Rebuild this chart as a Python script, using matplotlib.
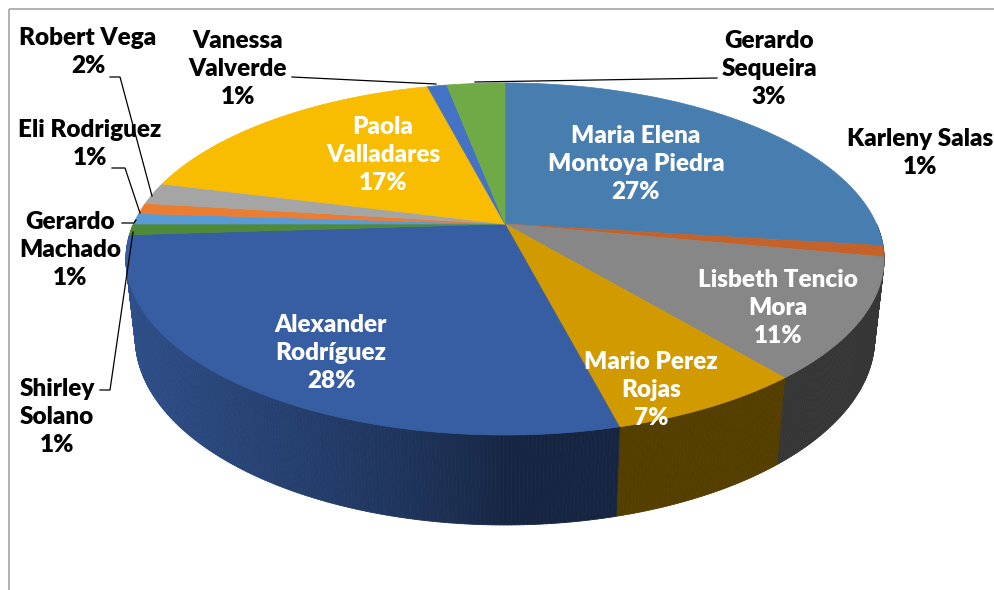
import numpy as np
import matplotlib
matplotlib.use("Agg")
import matplotlib.pyplot as plt
from matplotlib.patches import Polygon
from matplotlib.collections import PolyCollection
from matplotlib.colors import to_rgb
from matplotlib import font_manager

# ---------------- data ----------------
categories = ["Maria Elena Montoya Piedra", "Karleny Salas", "Lisbeth Tencio Mora",
              "Mario Perez Rojas", "Alexander Rodríguez", "Shirley Solano",
              "Gerardo Machado", "Eli Rodriguez", "Robert Vega",
              "Paola Valladares", "Vanessa Valverde", "Gerardo Sequeira"]
values = [27, 1, 11, 7, 28, 1, 1, 1, 2, 17, 1, 3]

# ---------------- style / layout ----------------
colors = ["#477EAF", "#C5622A", "#878787", "#D19B00", "#375DA2", "#4E8A38",
          "#5A9BD5", "#EA7D32", "#A5A5A5", "#F8BC00", "#4472C4", "#70AA46"]
label_text = ["Maria Elena\nMontoya Piedra", "Karleny Salas", "Lisbeth Tencio\nMora",
              "Mario Perez\nRojas", "Alexander\nRodríguez", "Shirley\nSolano",
              "Gerardo\nMachado", "Eli Rodriguez", "Robert Vega",
              "Paola\nValladares", "Vanessa\nValverde", "Gerardo\nSequeira"]
label_pos = [(636, 164), (920, 153), (778, 308), (651, 390), (331, 353), (57, 417),
             (70, 250), (90, 144), (88, 52), (383, 155), (238, 69), (769, 69)]
label_inside = [True, False, True, True, True, False, False, False, False, True, False, False]
leaders = {
    5: [(100, 390), (110, 390), (133, 232)],
    6: [(122, 223), (134, 223), (136, 220)],
    7: [(112, 168), (125, 168), (140, 213)],
    8: [(110, 77), (120, 77), (152, 196)],
    10: [(292, 77), (436, 84)],
    11: [(717, 78), (475, 82)],
}

# perspective geometry of the 3-D pie
CX, CY = 505.0, 224.0
TILT = np.radians(27.07)
S_, C_ = np.sin(TILT), np.cos(TILT)
DIST = 4.48
FOC = 1664.5
HEIGHT = 0.24


def proj(phi, Y):
    X = np.sin(phi)
    Z = -np.cos(phi)
    depth = DIST - Z * C_ - Y * S_
    v = Y * C_ - Z * S_
    return CX + FOC * X / depth, CY - FOC * v / depth, depth


fig = plt.figure(figsize=(9.95, 5.90), dpi=100)
ax = fig.add_axes([0, 0, 1, 1])
ax.set_xlim(0, 995)
ax.set_ylim(590, 0)
ax.axis("off")

# chart border (top and left)
ax.plot([9, 995], [9, 9], color="#ABABAB", lw=1.3, solid_capstyle="butt")
ax.plot([9, 9], [9, 590], color="#ABABAB", lw=1.3, solid_capstyle="butt")

total = float(sum(values))
bounds = np.concatenate([[0], np.cumsum(values)]) / total * 2 * np.pi

# ---- side walls ----
quads, qcols, qdepth = [], [], []
for i in range(len(values)):
    a0, a1 = bounds[i], bounds[i + 1]
    lo, hi = max(a0, np.pi / 2), min(a1, 1.5 * np.pi)
    if hi <= lo:
        continue
    n = max(2, int((hi - lo) / np.radians(0.5)))
    ph = np.linspace(lo, hi, n + 1)
    base = np.array(to_rgb(colors[i]))
    for k in range(n):
        p0, p1 = ph[k], ph[k + 1]
        x0t, y0t, d0 = proj(p0, 0)
        x1t, y1t, _ = proj(p1, 0)
        x1b, y1b, _ = proj(p1, -HEIGHT)
        x0b, y0b, _ = proj(p0, -HEIGHT)
        pm = 0.5 * (p0 + p1)
        f = 0.40 + 0.47 * max(0.0, -np.sin(pm)) ** 0.7
        quads.append([(x0t, y0t), (x1t, y1t), (x1b, y1b), (x0b, y0b)])
        qcols.append(np.clip(base * f, 0, 1))
        qdepth.append(d0)
order = np.argsort(qdepth)[::-1]
pc = PolyCollection([quads[j] for j in order], facecolors=[qcols[j] for j in order],
                    edgecolors=[qcols[j] for j in order], linewidths=0.6)
ax.add_collection(pc)

# ---- top faces ----
for i in range(len(values)):
    a0, a1 = bounds[i], bounds[i + 1]
    n = max(2, int((a1 - a0) / np.radians(0.5)))
    ph = np.linspace(a0, a1, n + 1)
    xs, ys, _ = proj(ph, 0)
    pts = [(CX, CY)] + list(zip(xs, ys))
    ax.add_patch(Polygon(pts, closed=True, facecolor=colors[i], edgecolor=colors[i],
                         linewidth=0.5))

# ---- labels ----
FONT = ["Lato", "DejaVu Sans"]
WEIGHT = "heavy"
probe = ax.text(0, 0, "Montoya Piedra", fontsize=16, fontweight=WEIGHT, family=FONT)
fig.canvas.draw()
w = probe.get_window_extent().width
probe.remove()
fs = 16 * 177.0 / w

for i in range(len(values)):
    txt = f"{label_text[i]}\n{values[i]:.0f}%"
    x, y = label_pos[i]
    ax.text(x, y, txt, ha="center", va="center", multialignment="center",
            fontsize=fs, fontweight=WEIGHT, family=FONT, linespacing=1.33,
            color="white" if label_inside[i] else "black")
    if i in leaders:
        lx, ly = zip(*leaders[i])
        ax.plot(lx, ly, color="black", lw=0.9)

fig.savefig("out.png", dpi=100)
